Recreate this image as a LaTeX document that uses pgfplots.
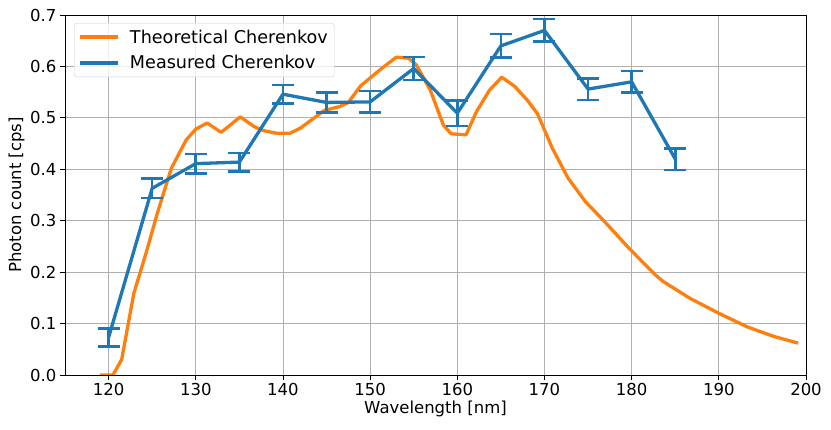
\documentclass[border=0pt]{standalone}
\usepackage{fontspec}
\setmainfont{DejaVu Sans}
\usepackage{pgfplots}
\pgfplotsset{compat=1.18}
\definecolor{tabblue}{HTML}{1F77B4}
\definecolor{taborange}{HTML}{FF7F0E}
\definecolor{gridgray}{HTML}{B0B0B0}
\begin{document}
\begin{tikzpicture}[x=1bp,y=1bp]
\begin{axis}[
  name=main,
  at={(0,0)}, anchor=origin,
  width=741bp, height=360bp, scale only axis,
  xmin=115, xmax=200, ymin=0, ymax=0.7,
  xtick={120,130,...,200},
  ytick={0,0.1,...,0.7},
  yticklabel style={/pgf/number format/.cd, fixed, fixed zerofill, precision=1},
  /pgf/number format/assume math mode=true,
  tick label style={font=\fontsize{16.5bp}{19bp}\selectfont},
  label style={font=\fontsize{16.5bp}{19bp}\selectfont},
  xlabel={Wavelength [nm]},
  ylabel={Photon count [cps]},
  xlabel style={at={(axis description cs:0.5,0)}, anchor=north, yshift=-22bp},
  ylabel style={at={(axis description cs:0,0.5)}, anchor=south, xshift=0bp, yshift=37bp},
  grid=major,
  grid style={color=gridgray, line width=0.8bp},
  tick align=outside,
  major tick length=5bp,
  tick style={black, line width=0.8bp},
  axis line style={line width=0.8bp},
  xtick pos=bottom, ytick pos=left,
  legend cell align=left,
  legend style={at={(0,1)}, anchor=north west, xshift=9bp, yshift=-8bp,
    draw=gray!40, rounded corners=3bp, fill=white, fill opacity=0.8, text opacity=1,
    font=\fontsize{17.6bp}{20bp}\selectfont, inner sep=4bp, row sep=6bp,
    column sep=8bp, nodes={inner sep=2.5bp}},
  legend image code/.code={\draw[#1] (0bp,0bp) -- (38bp,0bp);},
]
\addplot[taborange, line width=3.3bp, line join=round] coordinates {
(119,0) (120.5,0) (121.5,0.03) (122.9,0.159) (124.3,0.237) (125.6,0.315)
(127.2,0.402) (128.9,0.457) (130.0,0.478) (131.3,0.490) (132.9,0.472)
(133.6,0.481) (135.1,0.502) (136.7,0.483) (137.8,0.475) (139.3,0.470)
(140.8,0.470) (142.0,0.480) (144.7,0.514) (146.5,0.522) (147.5,0.530)
(148.9,0.562) (151.1,0.593) (153.0,0.618) (154.4,0.616) (155.3,0.603)
(156.9,0.554) (158.4,0.486) (159.3,0.469) (161.0,0.467) (162.2,0.512)
(163.7,0.554) (165.1,0.579) (166.6,0.561) (168.0,0.535) (169.2,0.508)
(170.9,0.441) (172.7,0.383) (174.7,0.337) (176.8,0.300) (179.5,0.250)
(181.0,0.224) (182.7,0.195) (183.6,0.182) (186.7,0.149) (190.0,0.120)
(193.2,0.094) (196.3,0.075) (199.1,0.062)
};
\addlegendentry{Theoretical Cherenkov}
\addplot[tabblue, line width=3.3bp, line join=round, mark=none,
  error bars/.cd, y dir=both, y explicit,
  error bar style={line width=2.6bp, tabblue},
  error mark options={tabblue, line width=2.6bp, mark size=11bp, rotate=90},
  ] coordinates {
(120,0.073) +- (0,0.018)
(125,0.363) +- (0,0.019)
(130,0.411) +- (0,0.019)
(135,0.414) +- (0,0.018)
(140,0.546) +- (0,0.018)
(145,0.530) +- (0,0.019)
(150,0.531) +- (0,0.021)
(155,0.596) +- (0,0.022)
(160,0.509) +- (0,0.025)
(165,0.640) +- (0,0.023)
(170,0.670) +- (0,0.022)
(175,0.556) +- (0,0.021)
(180,0.570) +- (0,0.021)
(185,0.420) +- (0,0.021)
};
\addlegendimage{tabblue, legend image code/.code={
  \draw[tabblue, line width=3.3bp] (0bp,0bp) -- (38bp,0bp);
  \draw[tabblue, line width=2.6bp] (19bp,-9bp) -- (19bp,9bp);
  \draw[tabblue, line width=2.6bp] (8bp,9bp) -- (30bp,9bp);
  \draw[tabblue, line width=2.6bp] (8bp,-9bp) -- (30bp,-9bp);}}
\addlegendentry{Measured Cherenkov}
\end{axis}
\path (-65bp,-55bp) rectangle (766bp,375bp);
\end{tikzpicture}
\end{document}
